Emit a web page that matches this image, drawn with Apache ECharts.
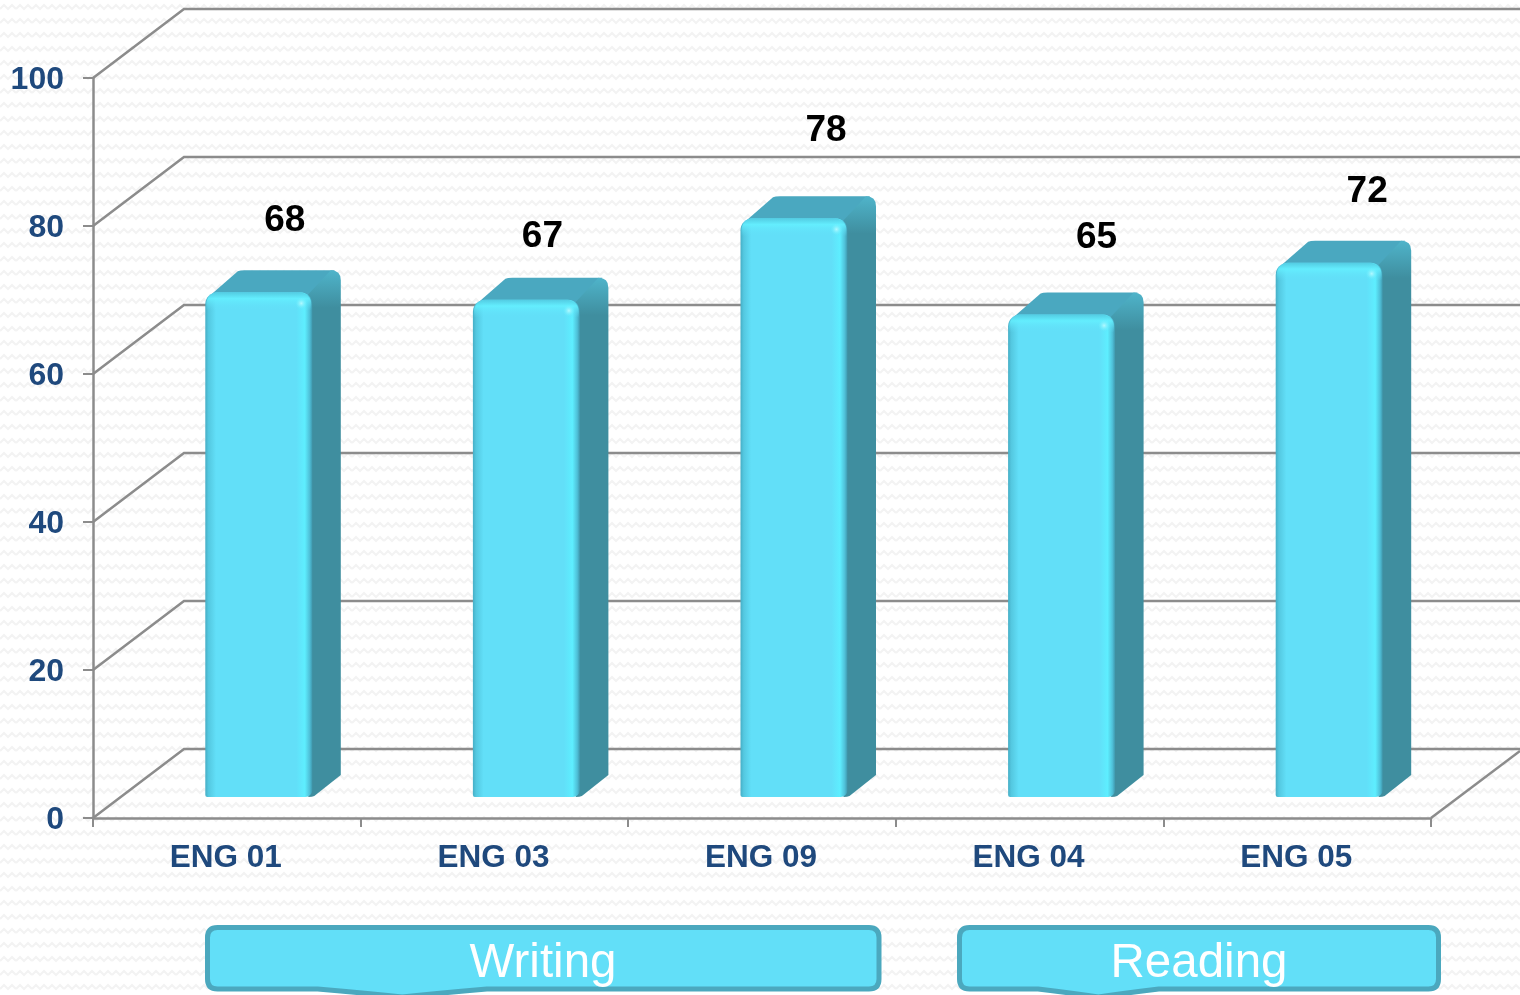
<!DOCTYPE html>
<html>
<head>
<meta charset="utf-8">
<script src="https://cdn.jsdelivr.net/npm/echarts@6/dist/echarts.min.js"></script>
<style>
html,body{margin:0;padding:0;width:1520px;height:995px;overflow:hidden;background-color:#fff;
background-image:url("data:image/svg+xml,%3Csvg xmlns='http://www.w3.org/2000/svg' width='16' height='14'%3E%3Cpath d='M0 9 L4 5 L8 9 L12 5 L16 9' fill='none' stroke='%23f3f3f3' stroke-width='2'/%3E%3C/svg%3E");}
#chart{width:1520px;height:995px;}
</style>
</head>
<body>
<div id="chart"></div>
<script>
var categories = ['ENG 01', 'ENG 03', 'ENG 09', 'ENG 04', 'ENG 05'];
var scores = [68, 67, 78, 65, 72];
var yTicks = [0, 20, 40, 60, 80, 100];
var groupNames = ['Writing', 'Reading'];

// Pixel styling, separate from the data
var WALL_DX = 91, WALL_DY = -69, RIGHT_EDGE = 1520;
var BAR_DX = 32, BAR_DY = -21, BAR_TOP_DY = -22.5, DEPTH_X = 28.5, DEPTH_Y = -22, BAR_W = 107, R = 10;
var labelNudgeX = [58, 48, 64, 67, 70];
var labelTopY = [221, 237, 131, 238, 192];
var LINE = '#8c8c8c', LINE_W = 2.5;
var boxes = [[207.5, 879], [959.5, 1438.5]];
var boxLabelX = [543, 1199];

function hGrad() {
  return {type:'linear',x:0,y:0,x2:1,y2:0,colorStops:[
    {offset:0,color:'#46aec6'},{offset:0.03,color:'#54c8e0'},{offset:0.1,color:'#62dff8'},
    {offset:0.85,color:'#62dff8'},{offset:0.93,color:'#5eeeff'},{offset:0.975,color:'#4fc0d8'},{offset:1,color:'#3f97ac'}]};
}

var wallSeries = {
  type:'custom', coordinateSystem:'cartesian2d', silent:true, clip:false, z:1,
  data: yTicks.map(function(v){return [0, v];}),
  encode:{x:0,y:1},
  renderItem: function(params, api){
    var v = api.value(1);
    var p = api.coord([0, v]);
    var x0 = params.coordSys.x, y = p[1];
    var kids = [
      {type:'polyline', shape:{points:[[x0,y],[x0+WALL_DX,y+WALL_DY],[RIGHT_EDGE,y+WALL_DY]]}, style:{stroke:LINE,lineWidth:LINE_W,fill:null}}
    ];
    if (v === 0) {
      var xr = x0 + params.coordSys.width;
      kids.push({type:'line', shape:{x1:xr,y1:y,x2:xr+89,y2:y-67}, style:{stroke:LINE,lineWidth:LINE_W}});
    }
    return {type:'group', children:kids};
  }
};

var barSeries = {
  type:'custom', coordinateSystem:'cartesian2d', silent:true, clip:false, z:3,
  data: scores.map(function(v,i){return [i, v];}),
  encode:{x:0,y:1},
  renderItem: function(params, api){
    var i = api.value(0), v = api.value(1);
    var top = api.coord([i, v]), base = api.coord([i, 0]);
    var xl = top[0] + BAR_DX - BAR_W/2, xr = xl + BAR_W;
    var yt = top[1] + BAR_TOP_DY, yb = base[1] + BAR_DY;
    var h = yb - yt;
    var dx = DEPTH_X, dy = DEPTH_Y;
    var sidePath = 'M'+(xr-4)+' '+(yt+2)+' L'+(xr+dx-10)+' '+(yt+dy)+' Q'+(xr+dx)+' '+(yt+dy)+' '+(xr+dx)+' '+(yt+dy+10)+
      ' L'+(xr+dx)+' '+(yb+dy)+' L'+(xr+2)+' '+(yb-1)+' Q'+xr+' '+yb+' '+(xr-4)+' '+yb+' Z';
    var topPath = 'M'+(xl+5)+' '+(yt+3)+' L'+(xl+dx+4)+' '+(yt+dy+1)+' Q'+(xl+dx+6)+' '+(yt+dy)+' '+(xl+dx+11)+' '+(yt+dy)+
      ' L'+(xr+dx-6)+' '+(yt+dy)+' L'+(xr+2)+' '+(yt+6)+' L'+(xr-6)+' '+(yt+6)+' Z';
    return {type:'group', children:[
      {type:'path', shape:{pathData:topPath}, style:{fill:'#4aa8c0'}},
      {type:'path', shape:{pathData:sidePath}, style:{fill:{type:'linear',x:0,y:0,x2:0,y2:1,colorStops:[
        {offset:0,color:'#4fb4ca'},{offset:Math.min(0.09,36/h),color:'#3f8e9f'},{offset:1,color:'#3f8e9f'}]}}},
      {type:'rect', shape:{x:xl,y:yt,width:BAR_W,height:h,r:[R+2,R+2,7,2]}, style:{fill:hGrad()}},
      {type:'rect', shape:{x:xl+1,y:yt,width:BAR_W-2,height:18,r:[R+2,R+2,0,0]}, style:{fill:{type:'linear',x:0,y:0,x2:0,y2:1,colorStops:[
        {offset:0,color:'rgba(80,200,222,0.85)'},{offset:0.35,color:'rgba(100,240,255,0.85)'},{offset:1,color:'rgba(98,223,248,0)'}]}}},
      {type:'circle', shape:{cx:xr-11,cy:yt+11,r:6}, style:{fill:{type:'radial',x:0.5,y:0.5,r:0.5,colorStops:[
        {offset:0,color:'rgba(190,250,255,0.9)'},{offset:1,color:'rgba(110,240,255,0)'}]}}}
    ]};
  }
};

var labelSeries = {
  type:'custom', coordinateSystem:'cartesian2d', silent:true, clip:false, z:5,
  data: scores.map(function(v,i){return [i, v];}),
  encode:{x:0,y:1},
  renderItem: function(params, api){
    var i = api.value(0);
    var p = api.coord([i, api.value(1)]);
    return {type:'text', style:{x:p[0]+labelNudgeX[i], y:labelTopY[i], text:String(api.value(1)),
      fill:'#000', font:'bold 37px "Liberation Sans"', align:'center', verticalAlign:'middle'}};
  }
};

function boxPath(x0, x1) {
  var y0 = 927.5, y1 = 989, r = 10, w = x1 - x0;
  var c = x0 + w * 0.29, half = w * 0.126;
  return 'M'+(x0+r)+' '+y0+' L'+(x1-r)+' '+y0+' Q'+x1+' '+y0+' '+x1+' '+(y0+r)+' L'+x1+' '+(y1-r)+' Q'+x1+' '+y1+' '+(x1-r)+' '+y1+
    ' L'+(c+half)+' '+y1+' Q'+(c+half*0.45)+' '+(y1+4)+' '+c+' '+(y1+8)+' Q'+(c-half*0.45)+' '+(y1+4)+' '+(c-half)+' '+y1+
    ' L'+(x0+r)+' '+y1+' Q'+x0+' '+y1+' '+x0+' '+(y1-r)+' L'+x0+' '+(y0+r)+' Q'+x0+' '+y0+' '+(x0+r)+' '+y0+' Z';
}
var boxSeries = {
  type:'custom', coordinateSystem:'cartesian2d', silent:true, clip:false, z:6,
  data: groupNames.map(function(n,i){return [i, 0];}),
  encode:{x:0,y:1},
  renderItem: function(params, api){
    var i = params.dataIndex;
    return {type:'group', children:[
      {type:'path', shape:{pathData:boxPath(boxes[i][0], boxes[i][1])}, style:{fill:'#62dff8', stroke:'#4ba8be', lineWidth:5}},
      {type:'text', style:{x:boxLabelX[i], y:964, text:groupNames[i], fill:'#fff',
        font:'47.5px "Liberation Sans"', align:'center', verticalAlign:'middle'}}
    ]};
  }
};

var chart = echarts.init(document.getElementById('chart'), null, {renderer:'canvas'});
chart.setOption({
  animation:false,
  backgroundColor:'transparent',
  grid:{left:93, right:89, top:78, bottom:177, containLabel:false},
  tooltip:{show:false},
  xAxis:{
    type:'category', data:categories, boundaryGap:true,
    axisLine:{show:true,lineStyle:{color:LINE,width:LINE_W}},
    axisTick:{show:true,length:9,inside:false,alignWithLabel:false,lineStyle:{color:LINE,width:2}},
    axisLabel:{color:'#1f497d',fontFamily:'Liberation Sans',fontWeight:'bold',fontSize:31.5,margin:24,interval:0,padding:[0,2,0,0]},
    splitLine:{show:false}
  },
  yAxis:{
    type:'value', min:0, max:100, interval:20,
    axisLine:{show:true,lineStyle:{color:LINE,width:LINE_W}},
    axisTick:{show:true,length:10,lineStyle:{color:LINE,width:2}},
    axisLabel:{color:'#1f497d',fontFamily:'Liberation Sans',fontWeight:'bold',fontSize:32,margin:29,verticalAlign:'top',lineHeight:4},
    splitLine:{show:false}
  },
  series:[wallSeries, barSeries, labelSeries, boxSeries]
});
</script>
</body>
</html>
